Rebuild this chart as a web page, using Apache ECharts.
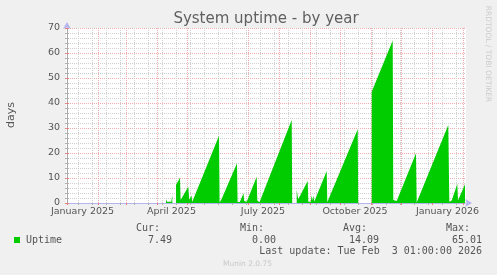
<!DOCTYPE html>
<html>
<head>
<meta charset="utf-8">
<script src="https://cdn.jsdelivr.net/npm/echarts@6/dist/echarts.min.js"></script>
<style>
html,body{margin:0;padding:0;background:#f0f0f0;}
#chart{width:497px;height:275px;}
</style>
</head>
<body>
<div id="chart"></div>
<script>
// x values are days counted from 2025-01-01
const uptimeDays = [99, 100, 104.3, 105.3, 105.8, 109, 113, 113.6, 121.3, 122.2, 124.5, 125.2, 126, 152, 152.6, 154.5, 155.3, 170, 170.6, 172.8, 176.5, 177.2, 179.7, 189.7, 190.3, 192.5, 224.7, 225.2, 225.8, 229.7, 230.5, 231.2, 233, 240.7, 241.3, 243.8, 244.7, 245.5, 246.3, 247.2, 248, 259.7, 260.3, 262, 290.7, 291.2, 291.8, 304.7, 325.7, 326.3, 328, 329.7, 349, 349.7, 351.3, 381.3, 382.3, 384.7, 390.3, 391, 392, 398];
const uptimeValues = [1.5, 0.5, 0.5, 3.2, null, 7.2, 10.1, 1.2, 6.5, 1.3, 3.0, 0.4, 0.3, 26.9, 0.2, 1.5, 1.0, 15.9, 0.4, 0.4, 3.9, 0.8, 0.5, 10.5, 1.0, 0.3, 33.2, 0.0, null, 5.2, 5.0, 1.5, 1.2, 8.8, 0.5, 0.5, 3.0, 1.0, 3.0, 0.5, 0.5, 12.8, 0.3, 0.3, 29.5, 0.0, null, 44.5, 65.0, 1.2, 0.6, 0.8, 19.9, 0.2, 0.5, 31.2, 0.5, 1.0, 7.6, 1.0, 0.5, 7.49];

const monthStarts = [0, 31, 59, 90, 120, 151, 181, 212, 243, 273, 304, 334, 365, 396];
const minorStart = 11, minorStep = 14;
const xLabelDays = [15.5, 104.5, 196, 288, 380.5];
const xLabelTexts = ['January 2025', 'April 2025', 'July 2025', 'October 2025', 'January 2026'];

const legendHeads = ['Cur:', 'Min:', 'Avg:', 'Max:'];
const legendValues = ['7.49', '0.00', '14.09', '65.01'];
const titleText = 'System uptime - by year';
const yAxisName = 'days';
const seriesName = 'Uptime';
const lastUpdate = 'Last update: Tue Feb  3 01:00:00 2026';
const footer = 'Munin 2.0.75';
const watermark = 'RRDTOOL / TOBI OETIKER';

const X_MIN = -1, X_MAX = 399;
const minorDays = [];
for (let d = minorStart; d < X_MAX; d += minorStep) minorDays.push(d);

const SANS = 'DejaVu Sans';
const MONO = 'DejaVu Sans Mono';
const TXT = '#555555';

const chart = echarts.init(document.getElementById('chart'), null, {renderer: 'canvas'});

const graphics = [];
graphics.push({type: 'text', x: 266, y: 19, style: {text: titleText, font: '15px "' + SANS + '"', fill: '#606060', align: 'center', verticalAlign: 'middle'}});
graphics.push({type: 'text', x: 11, y: 115, rotation: Math.PI / 2, style: {text: yAxisName, font: '11px "' + SANS + '"', fill: TXT, align: 'center', verticalAlign: 'middle'}});
graphics.push({type: 'text', x: 488, y: 54, rotation: -Math.PI / 2, style: {text: watermark, font: '7.5px "' + SANS + '"', fill: '#cccccc', align: 'center', verticalAlign: 'middle'}});
const headRight = [160, 264, 367, 470];
const valRight = [172, 276, 379, 482];
legendHeads.forEach((h, i) => {
  graphics.push({type: 'text', x: headRight[i], y: 228.5, style: {text: h, font: '10px "' + MONO + '"', fill: TXT, align: 'right', verticalAlign: 'middle'}});
  graphics.push({type: 'text', x: valRight[i], y: 240, style: {text: legendValues[i], font: '10px "' + MONO + '"', fill: TXT, align: 'right', verticalAlign: 'middle'}});
});
graphics.push({type: 'rect', shape: {x: 14, y: 237, width: 6, height: 6}, style: {fill: '#00cc00'}});
graphics.push({type: 'text', x: 26, y: 240, style: {text: seriesName, font: '10px "' + MONO + '"', fill: TXT, align: 'left', verticalAlign: 'middle'}});
graphics.push({type: 'text', x: 482, y: 251.5, style: {text: lastUpdate, font: '10px "' + MONO + '"', fill: TXT, align: 'right', verticalAlign: 'middle'}});
graphics.push({type: 'text', x: 247.5, y: 264.5, style: {text: footer, font: '7.5px "' + SANS + '"', fill: '#c8c8c8', align: 'center', verticalAlign: 'middle'}});

const seriesData = uptimeDays.map((d, i) => [d, uptimeValues[i] === null ? '-' : uptimeValues[i]]);

const GRID_MAJOR = '#f0acac';
const GRID_MINOR = '#d0d0d0';
const AXIS_COL = '#b4b4ee';

const option = {
  animation: false,
  backgroundColor: '#f0f0f0',
  grid: {left: 66, right: 31, top: 28, bottom: 72, show: true, backgroundColor: '#ffffff', borderWidth: 0},
  xAxis: [
    {
      type: 'value', min: X_MIN, max: X_MAX, position: 'bottom',
      axisLine: {show: true, lineStyle: {color: AXIS_COL, width: 1}, symbol: ['none', 'arrow'], symbolSize: [6, 7], symbolOffset: [0, 6]},
      axisTick: {show: true, customValues: monthStarts, length: 2, lineStyle: {color: '#e88080'}},
      axisLabel: {show: false},
      splitLine: {show: true, lineStyle: {color: GRID_MAJOR, type: [1, 1], width: 1}}
    },
    {
      type: 'value', min: X_MIN, max: X_MAX, position: 'bottom',
      axisLine: {show: false},
      axisTick: {show: true, customValues: minorDays, length: 2, lineStyle: {color: '#b0b0b0'}},
      axisLabel: {show: false},
      splitLine: {show: true, lineStyle: {color: GRID_MINOR, type: [1, 1], width: 1}}
    },
    {
      type: 'value', min: X_MIN, max: X_MAX, position: 'bottom',
      axisLine: {show: false},
      axisTick: {show: false},
      axisLabel: {show: true, customValues: xLabelDays, margin: 4, color: TXT, fontFamily: SANS, fontSize: 9.5,
        formatter: v => { const i = xLabelDays.indexOf(v); return i >= 0 ? xLabelTexts[i] : ''; }},
      splitLine: {show: false}
    }
  ],
  yAxis: [
    {
      type: 'value', min: 0, max: 70, interval: 10, position: 'left',
      axisLine: {show: true, lineStyle: {color: AXIS_COL, width: 1}, symbol: ['none', 'arrow'], symbolSize: [6, 7], symbolOffset: [0, 6]},
      axisTick: {show: true, length: 2, lineStyle: {color: '#e88080'}},
      minorTick: {show: true, splitNumber: 5, length: 2, lineStyle: {color: '#b0b0b0'}},
      axisLabel: {show: true, margin: 6, color: TXT, fontFamily: SANS, fontSize: 9.5},
      splitLine: {show: true, lineStyle: {color: GRID_MAJOR, type: [1, 1], width: 1}},
      minorSplitLine: {show: true, lineStyle: {color: GRID_MINOR, type: [1, 1], width: 1}}
    },
    {
      type: 'value', min: 0, max: 70, interval: 10, position: 'right',
      axisLine: {show: true, lineStyle: {color: '#a8a8a8', width: 1}},
      axisTick: {show: true, length: 2, lineStyle: {color: '#e88080'}},
      minorTick: {show: true, splitNumber: 5, length: 2, lineStyle: {color: '#b0b0b0'}},
      axisLabel: {show: false},
      splitLine: {show: false}
    }
  ],
  series: [{
    name: seriesName,
    type: 'line',
    xAxisIndex: 0, yAxisIndex: 0,
    data: seriesData,
    symbol: 'none',
    connectNulls: false,
    lineStyle: {width: 0, color: '#00cc00'},
    areaStyle: {color: '#00cc00', opacity: 1},
    silent: true
  }],
  graphic: graphics
};
chart.setOption(option);
</script>
</body>
</html>
